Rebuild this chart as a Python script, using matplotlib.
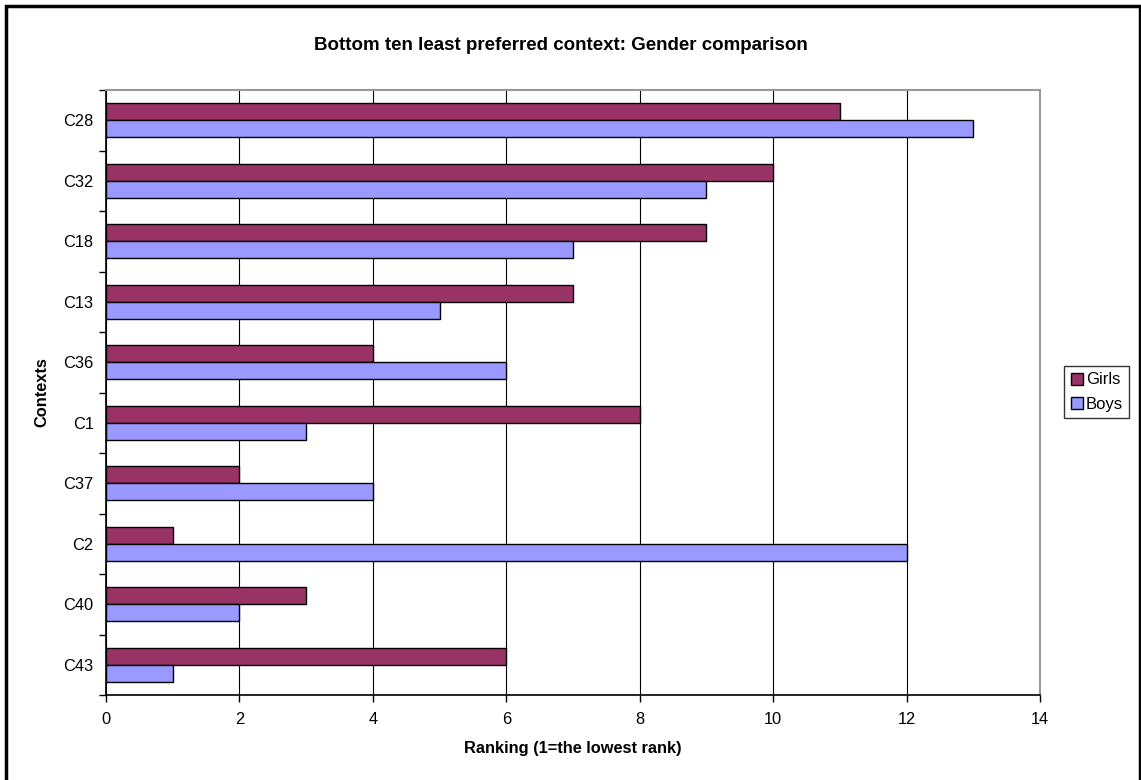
import numpy as np
import matplotlib
matplotlib.use("Agg")
import matplotlib.pyplot as plt
from matplotlib.patches import Rectangle

plt.rcParams['font.family'] = ['Liberation Sans', 'DejaVu Sans']

contexts = ["C28", "C32", "C18", "C13", "C36", "C1", "C37", "C2", "C40", "C43"]
girls = [11, 10, 9, 7, 4, 8, 2, 1, 3, 6]
boys = [13, 9, 7, 5, 6, 3, 4, 12, 2, 1]
xticks = [0, 2, 4, 6, 8, 10, 12, 14]

girl_col = "#993366"
boy_col = "#9999FF"

fig = plt.figure(figsize=(11.41, 7.80), dpi=100)
ax = fig.add_axes([106/1141, 1 - 695/780, (1040 - 106)/1141, (695 - 90)/780])

y = np.arange(len(contexts))
h = 0.28
ax.barh(y - h/2, girls, height=h, color=girl_col, edgecolor="black", linewidth=1, label="Girls", zorder=3)
ax.barh(y + h/2, boys, height=h, color=boy_col, edgecolor="black", linewidth=1, label="Boys", zorder=3)

ax.set_xlim(0, 14)
ax.set_ylim(len(contexts) - 0.5, -0.5)
ax.set_xticks(xticks)
ax.set_xticklabels([str(v) for v in xticks], fontsize=11.8)
ax.set_yticks(y)
ax.set_yticklabels(contexts, fontsize=11.8)
ax.set_yticks(np.arange(len(contexts) + 1) - 0.5, minor=True)
ax.tick_params(axis="y", which="major", length=0, pad=9)
ax.tick_params(axis="y", which="minor", length=5, width=1, direction="out")
ax.tick_params(axis="x", length=5, width=1, direction="out", pad=7)

ax.grid(axis="x", color="black", linewidth=0.8, zorder=0)
ax.set_axisbelow(True)
for s in ["top", "right"]:
    ax.spines[s].set_color("#999999")
    ax.spines[s].set_linewidth(1.5)
for s in ["left", "bottom"]:
    ax.spines[s].set_color("black")
    ax.spines[s].set_linewidth(1.2)

ax.set_xlabel("Ranking (1=the lowest rank)", fontsize=11.8, fontweight="bold", labelpad=10)
ax.set_ylabel("Contexts", fontsize=11.8, fontweight="bold", labelpad=10)

fig.text(0.5 - 10/1141, 1 - 45/780, "Bottom ten least preferred context: Gender comparison",
         ha="center", va="center", fontsize=13.5, fontweight="bold")

leg = fig.legend(loc="center left", bbox_to_anchor=(1064/1141, 1 - 392/780), frameon=True,
                 fontsize=12, fancybox=False, handlelength=0.75, handleheight=0.75,
                 handletextpad=0.15, borderpad=0.4, labelspacing=0.55, borderaxespad=0)
leg.get_frame().set_edgecolor("black")
leg.get_frame().set_linewidth(1)

fig.patches.append(Rectangle((6/1141, -0.02), 1134/1141, 1.02 - 6/780, transform=fig.transFigure,
                             fill=False, edgecolor="black", linewidth=2.5))

fig.savefig("out.png", dpi=100)
